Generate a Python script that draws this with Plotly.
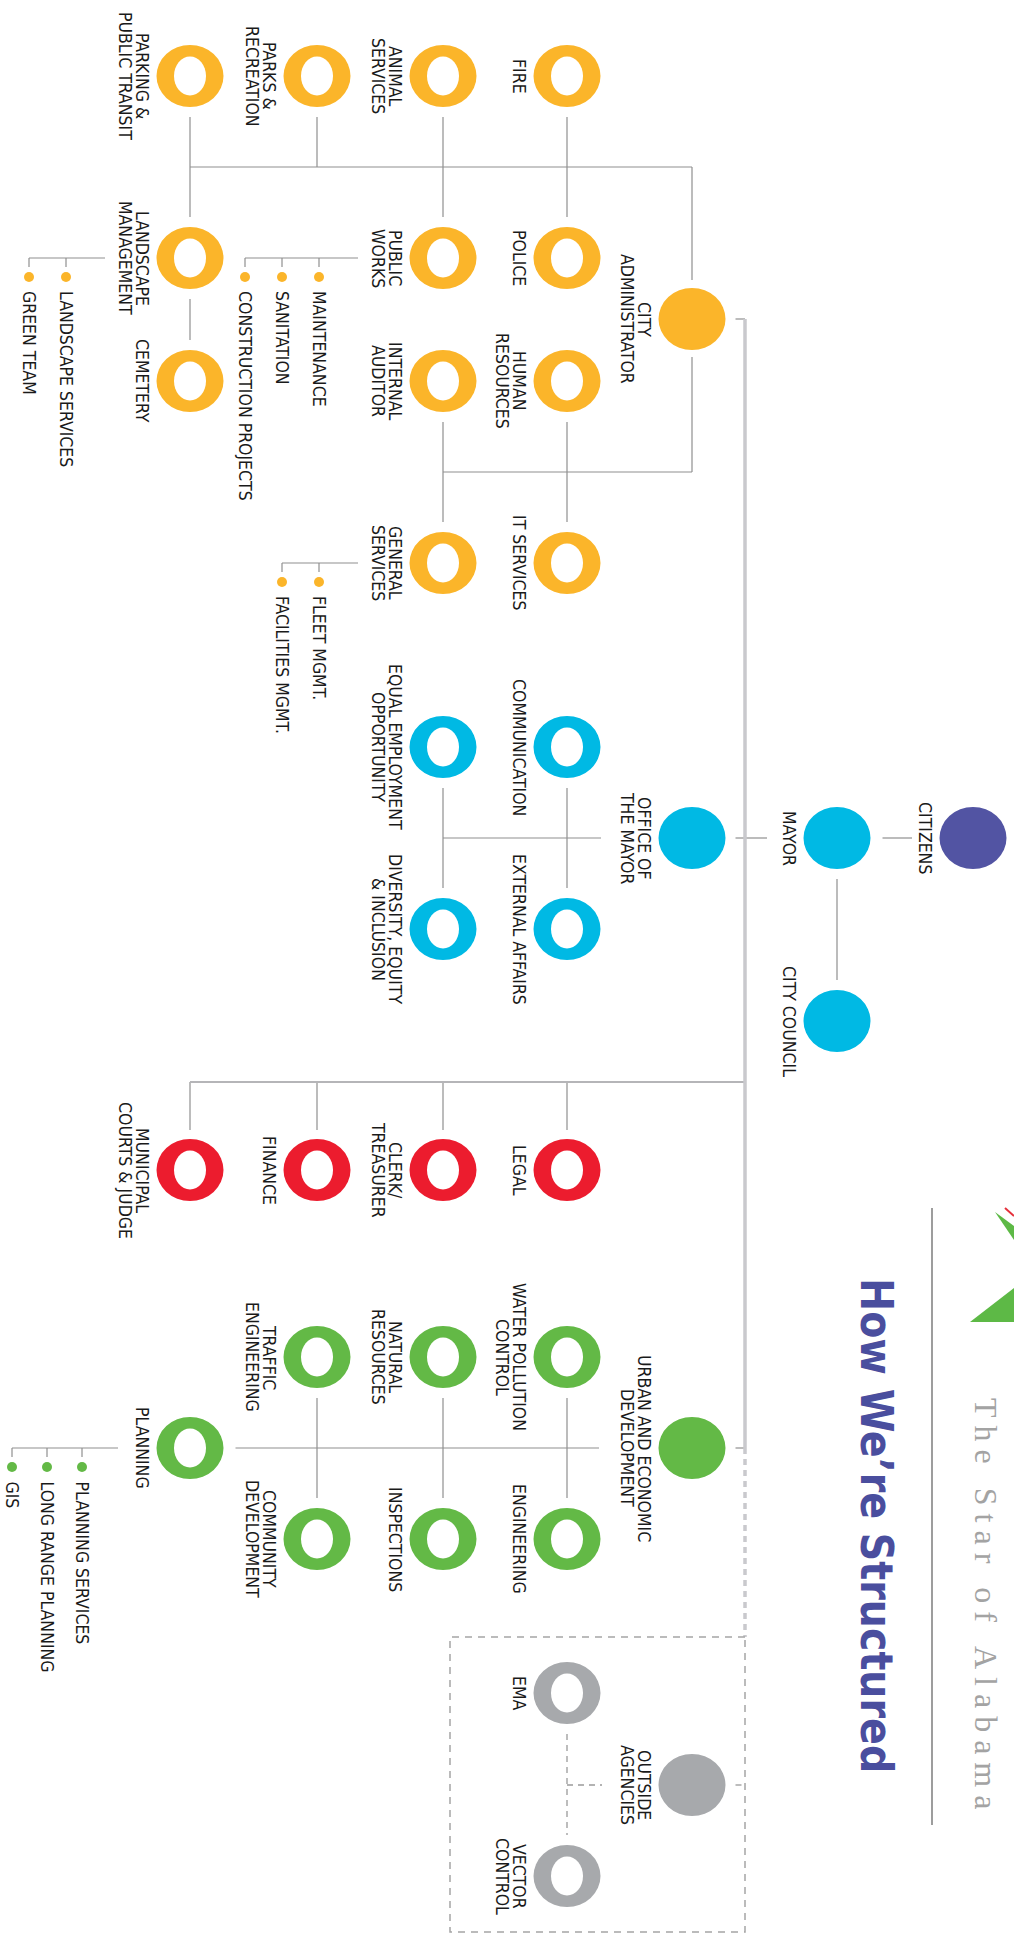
import plotly.graph_objects as go

# ---------------- data ----------------
node_names = [
    "FIRE", "ANIMAL SERVICES", "PARKS & RECREATION", "PARKING & PUBLIC TRANSIT",
    "POLICE", "PUBLIC WORKS", "LANDSCAPE MANAGEMENT", "CITY ADMINISTRATOR",
    "HUMAN RESOURCES", "INTERNAL AUDITOR", "CEMETERY", "IT SERVICES", "GENERAL SERVICES",
    "COMMUNICATION", "EQUAL EMPLOYMENT OPPORTUNITY", "OFFICE OF THE MAYOR",
    "EXTERNAL AFFAIRS", "DIVERSITY, EQUITY & INCLUSION", "MAYOR", "CITIZENS", "CITY COUNCIL",
    "LEGAL", "CLERK/TREASURER", "FINANCE", "MUNICIPAL COURTS & JUDGE",
    "URBAN AND ECONOMIC DEVELOPMENT", "WATER POLLUTION CONTROL", "NATURAL RESOURCES",
    "TRAFFIC ENGINEERING", "PLANNING", "ENGINEERING", "INSPECTIONS", "COMMUNITY DEVELOPMENT",
    "OUTSIDE AGENCIES", "EMA", "VECTOR CONTROL",
]
node_labels = [
    ["FIRE"], ["ANIMAL", "SERVICES"], ["PARKS &", "RECREATION"], ["PARKING &", "PUBLIC TRANSIT"],
    ["POLICE"], ["PUBLIC", "WORKS"], ["LANDSCAPE", "MANAGEMENT"], ["CITY", "ADMINISTRATOR"],
    ["HUMAN", "RESOURCES"], ["INTERNAL", "AUDITOR"], ["CEMETERY"], ["IT SERVICES"], ["GENERAL", "SERVICES"],
    ["COMMUNICATION"], ["EQUAL EMPLOYMENT", "OPPORTUNITY"], ["OFFICE OF", "THE MAYOR"],
    ["EXTERNAL AFFAIRS"], ["DIVERSITY, EQUITY", "& INCLUSION"], ["MAYOR"], ["CITIZENS"], ["CITY COUNCIL"],
    ["LEGAL"], ["CLERK/", "TREASURER"], ["FINANCE"], ["MUNICIPAL", "COURTS & JUDGE"],
    ["URBAN AND ECONOMIC", "DEVELOPMENT"], ["WATER POLLUTION", "CONTROL"], ["NATURAL", "RESOURCES"],
    ["TRAFFIC", "ENGINEERING"], ["PLANNING"], ["ENGINEERING"], ["INSPECTIONS"], ["COMMUNITY", "DEVELOPMENT"],
    ["OUTSIDE", "AGENCIES"], ["EMA"], ["VECTOR", "CONTROL"],
]
node_groups = [
    "admin", "admin", "admin", "admin", "admin", "admin", "admin", "admin",
    "admin", "admin", "admin", "admin", "admin",
    "mayor", "mayor", "mayor", "mayor", "mayor", "mayor", "citizens", "mayor",
    "legal", "legal", "legal", "legal",
    "urban", "urban", "urban", "urban", "urban", "urban", "urban", "urban",
    "outside", "outside", "outside",
]
node_filled = [
    0, 0, 0, 0, 0, 0, 0, 1, 0, 0, 0, 0, 0,
    0, 0, 1, 0, 0, 1, 1, 1,
    0, 0, 0, 0,
    1, 0, 0, 0, 0, 0, 0, 0,
    1, 0, 0,
]
node_col = [
    3, 2, 1, 0, 3, 2, 0, 4, 3, 2, 0, 3, 2,
    3, 2, 4, 3, 2, 5, 6, 5,
    3, 2, 1, 0,
    4, 3, 2, 1, 0, 3, 2, 1,
    4, 3, 3,
]
node_row = [
    0, 0, 0, 0, 1, 1, 1, 2, 3, 3, 3, 4, 4,
    5, 5, 6, 7, 7, 6, 6, 8,
    9, 9, 9, 9,
    11, 10, 10, 10, 11, 12, 12, 12,
    14, 13, 15,
]
sub_units = {
    "PUBLIC WORKS": ["MAINTENANCE", "SANITATION", "CONSTRUCTION PROJECTS"],
    "LANDSCAPE MANAGEMENT": ["LANDSCAPE SERVICES", "GREEN TEAM"],
    "GENERAL SERVICES": ["FLEET MGMT.", "FACILITIES MGMT."],
    "PLANNING": ["PLANNING SERVICES", "LONG RANGE PLANNING", "GIS"],
}
title_text = "How We’re Structured"
brand_text = "The Star of Alabama"

# ---------------- layout constants ----------------
W, H = 1014, 1937
COLS = [190, 317, 443, 567, 692, 837, 973]
ROWS = [76, 258, 319, 381, 563, 747, 838, 929, 1021, 1170, 1357, 1448, 1539, 1693, 1785, 1876]
TRUNK_X = 745
COLORS = {"admin": "#FBB52A", "mayor": "#00B9E4", "citizens": "#5254A3",
          "legal": "#EC1C2E", "urban": "#63B946", "outside": "#A7A9AC"}
OW, OH = 67, 62      # outer ellipse
IW, IH = 32, 39      # hole
FONT = "Liberation Sans Narrow, Arial Narrow, DejaVu Sans Condensed, sans-serif"
LBL_SIZE = 17.5
LINE_OFF = [-48, -65]

pos = {n: (COLS[c], ROWS[r]) for n, c, r in zip(node_names, node_col, node_row)}
gap = 10

fig = go.Figure()
shapes, annotations = [], []

# ---------------- connectors ----------------
thin_x, thin_y = [], []
def seg(x0, y0, x1, y1):
    thin_x.extend([x0, x1, None]); thin_y.extend([y0, y1, None])

def vlink(a, b):
    xa, ya = pos[a]; xb, yb = pos[b]
    seg(xa, ya + OH / 2 + gap, xb, yb - OH / 2 - gap)

top_bus = (ROWS[0] + ROWS[1]) / 2
low_bus = (ROWS[3] + ROWS[4]) / 2
vlink("FIRE", "POLICE"); vlink("ANIMAL SERVICES", "PUBLIC WORKS"); vlink("PARKING & PUBLIC TRANSIT", "LANDSCAPE MANAGEMENT")
seg(pos["PARKS & RECREATION"][0], ROWS[0] + OH / 2 + gap, pos["PARKS & RECREATION"][0], top_bus)
ca = pos["CITY ADMINISTRATOR"]
seg(COLS[0], top_bus, ca[0], top_bus); seg(ca[0], top_bus, ca[0], ca[1] - OH / 2 - 8)
vlink("LANDSCAPE MANAGEMENT", "CEMETERY")
vlink("HUMAN RESOURCES", "IT SERVICES"); vlink("INTERNAL AUDITOR", "GENERAL SERVICES")
seg(ca[0], ca[1] + OH / 2 + 7, ca[0], low_bus); seg(COLS[2], low_bus, ca[0], low_bus)
seg(ca[0] + OW / 2 + 10, ca[1], TRUNK_X, ca[1])
om = pos["OFFICE OF THE MAYOR"]
vlink("COMMUNICATION", "EXTERNAL AFFAIRS"); vlink("EQUAL EMPLOYMENT OPPORTUNITY", "DIVERSITY, EQUITY & INCLUSION")
seg(COLS[2], om[1], om[0] - 91, om[1])
seg(om[0] + OW / 2 + 10, om[1], pos["MAYOR"][0] - 70, om[1])
my = pos["MAYOR"]
seg(my[0] + OW / 2 + 12, my[1], pos["CITIZENS"][0] - 61, my[1])
vlink("MAYOR", "CITY COUNCIL")
ud = pos["URBAN AND ECONOMIC DEVELOPMENT"]
seg(pos["PLANNING"][0] + OW / 2 + 12, ud[1], ud[0] - 93, ud[1])
vlink("WATER POLLUTION CONTROL", "ENGINEERING"); vlink("NATURAL RESOURCES", "INSPECTIONS")
vlink("TRAFFIC ENGINEERING", "COMMUNITY DEVELOPMENT")
seg(ud[0] + OW / 2 + 10, ud[1], TRUNK_X, ud[1])

legal_bus = ROWS[9] - 88
leg_x, leg_y = [COLS[0], TRUNK_X, None], [legal_bus, legal_bus, None]
for n in ["LEGAL", "CLERK/TREASURER", "FINANCE", "MUNICIPAL COURTS & JUDGE"]:
    x, y = pos[n]
    seg(x, legal_bus, x, y - OH / 2 - 9)

sub_x, sub_y, sub_c = [], [], []
for parent, items in sub_units.items():
    px, py = pos[parent]
    start = px - (108 if parent == "PLANNING" else 124)
    end = px - (72 if len(node_labels[node_names.index(parent)]) == 1 else 85)
    step = 35 if parent == "PLANNING" else 37
    xs = [start - step * i for i in range(len(items))]
    seg(xs[-1], py, end, py)
    for sx, txt in zip(xs, items):
        seg(sx, py, sx, py + 9)
        sub_x.append(sx); sub_y.append(py + 19)
        sub_c.append(COLORS[node_groups[node_names.index(parent)]])
        annotations.append(dict(x=sx, y=py + 31, text=txt, textangle=90, showarrow=False,
                                xanchor="center", yanchor="top",
                                font=dict(family=FONT, size=LBL_SIZE, color="#1a1a1a")))

fig.add_trace(go.Scatter(x=thin_x, y=thin_y, mode="lines", line=dict(color="#8f8f8f", width=1.2),
                         hoverinfo="skip", showlegend=False))
fig.add_trace(go.Scatter(x=leg_x, y=leg_y, mode="lines", line=dict(color="#b5b5b8", width=2.2),
                         hoverinfo="skip", showlegend=False))
fig.add_trace(go.Scatter(x=[TRUNK_X, TRUNK_X], y=[ca[1], ud[1]], mode="lines",
                         line=dict(color="#c9c9cd", width=3.5), hoverinfo="skip", showlegend=False))

oa = pos["OUTSIDE AGENCIES"]
box_top, box_left, box_bottom = 1637, 450, 1932
fig.add_trace(go.Scatter(x=[TRUNK_X, TRUNK_X], y=[ud[1], box_top], mode="lines",
                         line=dict(color="#c9c9cd", width=3.5, dash="6px,5px"), hoverinfo="skip", showlegend=False))
dx, dy = [], []
ema, vec = pos["EMA"], pos["VECTOR CONTROL"]
for (x0, y0, x1, y1) in [(oa[0] + OW / 2 + 10, oa[1], TRUNK_X, oa[1]),
                         (ema[0], oa[1], oa[0] - 90, oa[1]),
                         (ema[0], ema[1] + OH / 2 + 10, vec[0], vec[1] - OH / 2 - 10)]:
    dx.extend([x0, x1, None]); dy.extend([y0, y1, None])
fig.add_trace(go.Scatter(x=dx, y=dy, mode="lines", line=dict(color="#9a9a9a", width=1.3, dash="6px,5px"),
                         hoverinfo="skip", showlegend=False))
fig.add_trace(go.Scatter(x=[TRUNK_X, box_left, box_left, TRUNK_X, TRUNK_X],
                         y=[box_top, box_top, box_bottom, box_bottom, box_top], mode="lines",
                         line=dict(color="#a5a5a5", width=1.5, dash="7px,6px"), hoverinfo="skip", showlegend=False))

# ---------------- nodes ----------------
for n, lab, g, f in zip(node_names, node_labels, node_groups, node_filled):
    x, y = pos[n]
    col = COLORS[g]
    shapes.append(dict(type="circle", xref="x", yref="y", x0=x - OW / 2, x1=x + OW / 2,
                       y0=y - OH / 2, y1=y + OH / 2, fillcolor=col, line=dict(width=0)))
    if not f:
        shapes.append(dict(type="circle", xref="x", yref="y", x0=x - IW / 2, x1=x + IW / 2,
                           y0=y - IH / 2, y1=y + IH / 2, fillcolor="white", line=dict(width=0)))
    for i, line in enumerate(lab):
        annotations.append(dict(x=x + LINE_OFF[i], y=y, text=line, textangle=90, showarrow=False,
                                xanchor="center", yanchor="middle",
                                font=dict(family=FONT, size=LBL_SIZE, color="#1a1a1a")))

fig.add_trace(go.Scatter(x=sub_x, y=sub_y, mode="markers", marker=dict(size=10, color=sub_c),
                         hoverinfo="skip", showlegend=False))

# ---------------- header ----------------
shapes.append(dict(type="line", xref="x", yref="y", x0=932, x1=932, y0=1208, y1=1825,
                   line=dict(color="#9d9d9d", width=2)))
shapes.append(dict(type="path", xref="x", yref="y", path="M 970 1322 L 1014 1288 L 1014 1322 Z",
                   fillcolor="#5DB946", line=dict(width=0)))
shapes.append(dict(type="path", xref="x", yref="y", path="M 995 1212 L 1014 1226 L 1014 1240 Z",
                   fillcolor="#5DB946", line=dict(width=0)))
shapes.append(dict(type="line", xref="x", yref="y", x0=1005, x1=1014, y0=1208, y1=1216,
                   line=dict(color="#E5303B", width=2)))
annotations.append(dict(x=877, y=1525, text="<b>" + title_text + "</b>", textangle=90, showarrow=False,
                        xanchor="center", yanchor="middle",
                        font=dict(family=FONT, size=44, color="#4A4E9E")))
spaced = "\u2005".join(list(brand_text))
annotations.append(dict(x=986, y=1603, text=spaced, textangle=90, showarrow=False,
                        xanchor="center", yanchor="middle",
                        font=dict(family="Liberation Serif, DejaVu Serif, serif", size=32, color="#a3a3a3")))

fig.update_layout(
    width=W, height=H, autosize=False,
    margin=dict(l=0, r=0, t=0, b=0),
    paper_bgcolor="white", plot_bgcolor="white",
    xaxis=dict(range=[0, W], visible=False, fixedrange=True),
    yaxis=dict(range=[H, 0], visible=False, fixedrange=True),
    shapes=shapes, annotations=annotations, showlegend=False,
)
fig.write_html("out.html", config={"displayModeBar": False},
               post_script="document.body.style.margin='0';")
